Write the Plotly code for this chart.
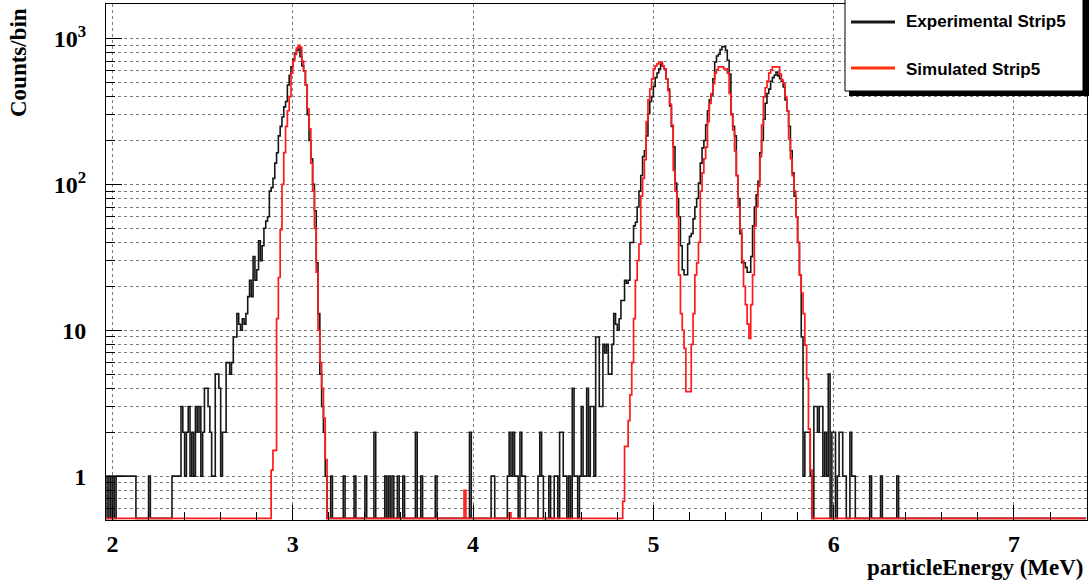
import numpy as np
import plotly.graph_objects as go

# ---------------- data (counts per 0.01 MeV bin) ----------------
hist_low, hist_high, bin_width = 1.96, 7.40, 0.01

# isolated bins of the experimental histogram (bin low edge, counts)
exp_single_energy = [1.96, 1.98, 2.00, 2.02, 2.03, 2.04, 2.05, 2.06, 2.07, 2.08, 2.09, 2.10,
                     2.11, 2.12, 2.20, 2.33, 2.34, 2.35, 2.36, 2.37,
                     3.21, 3.28, 3.34, 3.40, 3.45, 3.51, 3.53, 3.55, 3.58, 3.61, 3.68, 3.71,
                     3.79, 3.98, 4.10, 4.11, 4.19, 4.20, 4.21, 4.22, 4.23, 4.24, 4.26, 4.27,
                     4.28, 4.36, 4.37, 4.38, 4.42, 4.45, 4.46, 6.20, 6.26, 6.35]
exp_single_counts = [1, 1, 1, 1, 1, 1, 1, 1, 1, 1, 1, 1,
                     1, 1, 1, 1, 1, 1, 1, 1,
                     1, 1, 1, 1, 2, 1, 1, 1, 1, 1, 2, 1,
                     1, 2, 1, 1, 1, 2, 1, 2, 1, 1, 2, 1,
                     1, 1, 2, 1, 1, 1, 1, 1, 1, 1]

exp_peak1_start = 2.38
exp_peak1_counts = [3, 2, 1, 2, 3, 1, 2, 1, 3, 2,
                    3, 1, 2, 4, 4, 3, 2, 1, 1, 5,
                    5, 4, 1, 2, 2, 6, 6, 5, 6, 9,
                    9, 13, 11, 10, 12, 11, 13, 17, 22, 17,
                    32, 22, 26, 41, 30, 38, 50, 56, 60, 90,
                    95, 110, 140, 165, 215, 250, 290, 340, 370, 480,
                    560, 640, 720, 790, 830, 870, 750, 650, 600, 480,
                    300, 200, 150, 100, 66, 29, 13, 5, 3, 2,
                    1]

exp_triplet_start = 4.48
exp_triplet_counts = [2, 2, 1, 1, 0, 1, 0, 4, 1, 1,
                      0, 1, 3, 1, 1, 4, 1, 3, 3, 1,
                      9, 9, 3, 3, 8, 7, 8, 5, 5, 8,
                      13, 11, 10, 12, 16, 16, 22, 21, 22, 40,
                      40, 52, 55, 70, 90, 115, 155, 170, 215, 305,
                      370, 400, 470, 540, 580, 620, 670, 650, 620, 530,
                      450, 345, 250, 181, 102, 80, 60, 38, 26, 24,
                      24, 39, 44, 46, 58, 70, 80, 102, 140, 178,
                      200, 255, 320, 380, 410, 530, 690, 760, 780, 840,
                      880, 880, 830, 710, 570, 305, 250, 215, 115, 80,
                      46, 29, 29, 27, 25, 25, 32, 52, 70, 85,
                      105, 165, 200, 280, 360, 420, 450, 510, 540, 560,
                      590, 555, 530, 510, 465, 380, 320, 250, 170, 120,
                      83, 60, 40, 24, 9, 1, 2, 2, 2, 1,
                      0, 3, 3, 2, 3, 3, 1, 2, 1, 5,
                      0, 2, 2, 0, 1, 2, 2, 1, 1, 0,
                      0, 2, 1, 1]

# simulated histogram
sim_single_energy = [3.95, 4.20]
sim_single_counts = [0.8, 0.56]

sim_peak1_start = 2.88
sim_peak1_counts = [1.1, 1.5, 1.5, 12, 23, 49, 100, 165, 250, 320,
                    400, 580, 700, 780, 860, 900, 870, 700, 600, 480,
                    330, 240, 140, 90, 50, 25, 10, 6, 4, 2.5,
                    1.3]

sim_triplet_start = 4.83
sim_triplet_counts = [0.67, 1.6, 1.6, 2.4, 3.6, 6, 12, 22, 30, 39,
                      83, 110, 148, 270, 380, 450, 530, 620, 650, 670,
                      690, 690, 650, 620, 530, 440, 355, 255, 125, 90,
                      60, 24, 13, 10, 7.5, 3.8, 3.8, 3.8, 8, 13,
                      24, 29, 40, 90, 120, 150, 180, 270, 360, 420,
                      490, 580, 610, 640, 640, 640, 620, 620, 580, 420,
                      300, 236, 170, 115, 70, 49, 30, 20, 15, 11,
                      8.8, 15, 24, 52, 70, 97, 155, 255, 398, 460,
                      510, 580, 610, 640, 640, 640, 640, 570, 520, 490,
                      400, 320, 205, 150, 115, 90, 60, 40, 24, 18,
                      13, 7.9, 4.66, 2.1, 1.1]

series_names = ["Experimental Strip5", "Simulated Strip5"]
x_tick_values = [2, 3, 4, 5, 6, 7]
x_tick_labels = ["2", "3", "4", "5", "6", "7"]
y_tick_values = [1, 10, 100, 1000]
y_tick_labels = ["1", "10", "10<sup>2</sup>", "10<sup>3</sup>"]
x_title = "particleEnergy (MeV)"
y_title = "Counts/bin"

# ---------------- build histograms ----------------
n_bins = int(round((hist_high - hist_low) / bin_width))
edges = hist_low + bin_width * np.arange(n_bins + 1)


def build(single_e, single_c, blocks):
    h = np.zeros(n_bins)
    for e, c in zip(single_e, single_c):
        h[int(round((e - hist_low) / bin_width))] = c
    for start, counts in blocks:
        i0 = int(round((start - hist_low) / bin_width))
        h[i0:i0 + len(counts)] = counts
    return h


exp_hist = build(exp_single_energy, exp_single_counts,
                 [(exp_peak1_start, exp_peak1_counts), (exp_triplet_start, exp_triplet_counts)])
sim_hist = build(sim_single_energy, sim_single_counts,
                 [(sim_peak1_start, sim_peak1_counts), (sim_triplet_start, sim_triplet_counts)])

y_min, y_max_log = 0.5, 3.237
x_range = [1.964, 7.405]
# empty bins are drawn along the bottom edge of the frame (as ROOT does on a log axis)
px_per_decade = 145.7
y_floor = y_min * 10 ** (1.6 / px_per_decade)


def step_y(h):
    v = np.where(h > 0, h, y_floor)
    return np.append(v, v[-1])


BLACK = "#161616"
RED = "#ff1a1a"

fig = go.Figure()
fig.add_trace(go.Scatter(x=edges, y=step_y(exp_hist), mode="lines", line_shape="hv",
                         line=dict(color=BLACK, width=1.6), name=series_names[0],
                         showlegend=False))
fig.add_trace(go.Scatter(x=edges, y=step_y(sim_hist), mode="lines", line_shape="hv",
                         line=dict(color=RED, width=1.7), name=series_names[1],
                         showlegend=False))

# ---------------- layout ----------------
W, H = 1089, 583
L, R, T, B = 106, 2, 4, 63
pw, ph = W - L - R, H - T - B


def px(xp):
    return (xp - L) / pw


def py(yp):
    return (H - B - yp) / ph


tick_font = dict(family="Liberation Serif", size=24, color="black", weight="bold")
grid_kw = dict(gridcolor="#7a7a7a", griddash="dot", gridwidth=1)

x_minor = [v for v in np.round(np.arange(2.0, 7.41, 0.2), 1) if abs(v - round(v)) > 1e-6]
y_minor = [0.6, 0.7, 0.8, 0.9] + [k * 10 ** d for d in range(3) for k in range(2, 10)]

fig.update_xaxes(type="linear", range=x_range, showline=True, mirror=True, linecolor="black",
                 linewidth=1, ticks="inside", ticklen=15, tickwidth=1, tickcolor="black",
                 tickmode="array", tickvals=x_tick_values, ticktext=x_tick_labels,
                 tickfont=tick_font, ticklabelstandoff=2, showgrid=True, **grid_kw,
                 minor=dict(tickmode="array", tickvals=x_minor, ticks="inside", ticklen=8,
                            tickcolor="black", showgrid=False),
                 zeroline=False)
fig.update_yaxes(type="log", range=[np.log10(y_min), y_max_log], showline=True, mirror=True,
                 linecolor="black", linewidth=1, ticks="inside", ticklen=16, tickwidth=1,
                 tickcolor="black", tickmode="array", tickvals=y_tick_values,
                 ticktext=y_tick_labels, tickfont=tick_font, ticklabelstandoff=14,
                 showgrid=True, **grid_kw,
                 minor=dict(tickmode="array", tickvals=y_minor, ticks="inside", ticklen=9,
                            tickcolor="black", showgrid=True, **grid_kw),
                 zeroline=False)

shapes = [
    # legend shadow and box
    dict(type="rect", xref="paper", yref="paper", x0=px(849), x1=px(1089), y0=py(96), y1=py(-5),
         fillcolor="black", line=dict(width=0), layer="above"),
    dict(type="rect", xref="paper", yref="paper", x0=px(845), x1=px(1083), y0=py(91), y1=py(-5),
         fillcolor="white", line=dict(color="black", width=1), layer="above"),
    dict(type="line", xref="paper", yref="paper", x0=px(851), x1=px(895), y0=py(22), y1=py(22),
         line=dict(color=BLACK, width=3), layer="above"),
    dict(type="line", xref="paper", yref="paper", x0=px(851), x1=px(895), y0=py(68), y1=py(68),
         line=dict(color="#ff3010", width=3), layer="above"),
]

annotations = [
    dict(text="<b>%s</b>" % series_names[0], x=px(904), y=py(22), xref="paper", yref="paper",
         xanchor="left", yanchor="middle", showarrow=False,
         font=dict(family="Liberation Sans", size=17, color="black")),
    dict(text="<b>%s</b>" % series_names[1], x=px(904), y=py(69), xref="paper", yref="paper",
         xanchor="left", yanchor="middle", showarrow=False,
         font=dict(family="Liberation Sans", size=17, color="black")),
    dict(text="<b>%s</b>" % x_title, x=px(1086), y=py(567), xref="paper", yref="paper",
         xanchor="right", yanchor="middle", showarrow=False,
         font=dict(family="Liberation Serif", size=23, color="black")),
    dict(text="<b>%s</b>" % y_title, x=px(19), y=py(63), xref="paper", yref="paper",
         xanchor="center", yanchor="middle", textangle=-90, showarrow=False,
         font=dict(family="Liberation Serif", size=23, color="black")),
]

fig.update_layout(width=W, height=H, margin=dict(l=L, r=R, t=T, b=B, pad=0),
                  paper_bgcolor="white", plot_bgcolor="white", showlegend=False,
                  shapes=shapes, annotations=annotations)

fig.write_html("out.html")
